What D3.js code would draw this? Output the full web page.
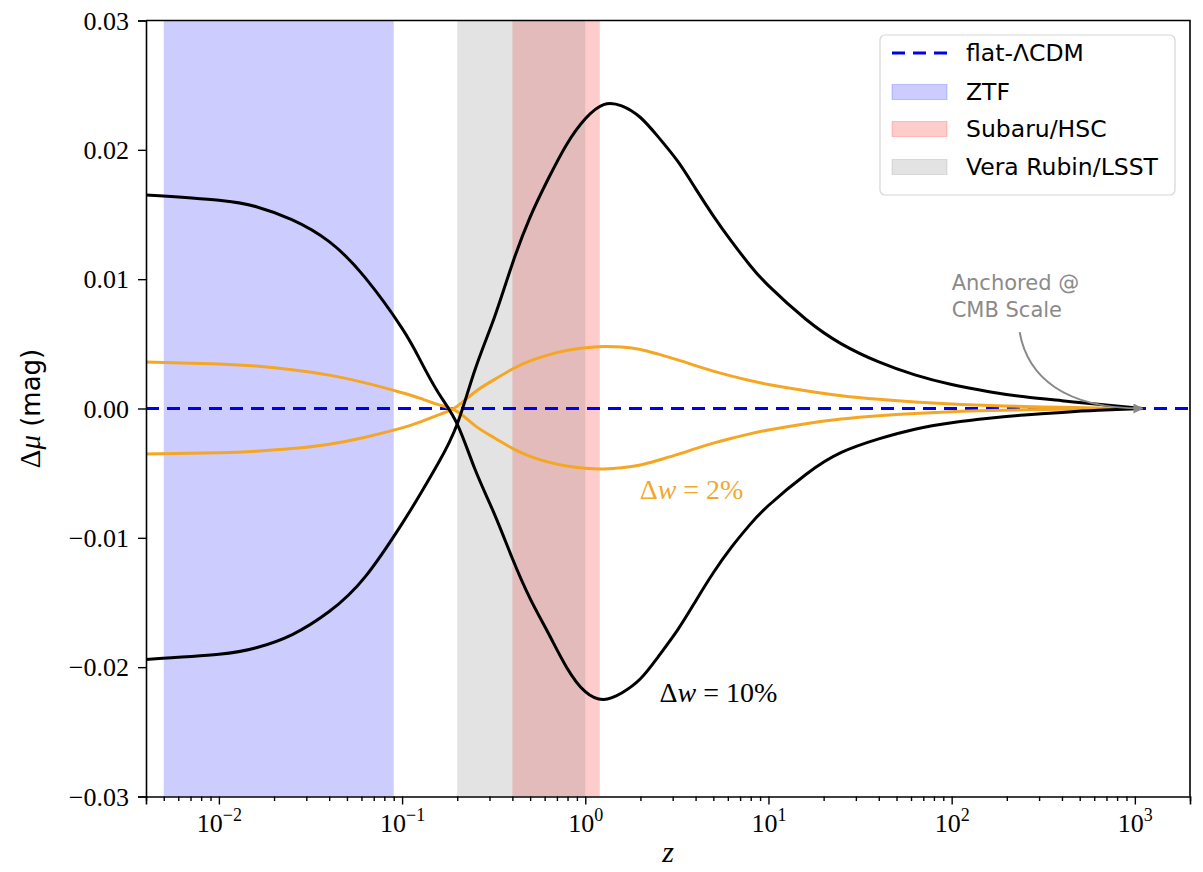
<!DOCTYPE html>
<html>
<head>
<meta charset="utf-8">
<script src="https://cdn.jsdelivr.net/npm/d3@7"></script>
<style>
  body { margin: 0; background: #fff; }
  .tick text { font-family: "Liberation Serif", serif; }
</style>
</head>
<body>
<svg id="chart" width="1203" height="872"></svg>
<script>
// redshift samples
const zGrid = [0.004, 0.01, 0.016, 0.025, 0.04, 0.063, 0.1, 0.126, 0.158, 0.2, 0.25, 0.32, 0.4, 0.5,
  0.63, 0.79, 1, 1.26, 1.58, 2, 2.5, 3.2, 4, 5, 6.3, 7.9, 10, 16, 25, 40, 63, 100, 160, 250, 400, 630, 1100];

// delta w = 10%, the two branches
const dw10Upper = [0.0165, 0.0161, 0.0156, 0.0146, 0.0129, 0.0101, 0.0062, 0.0037, 0.0012, -0.0012,
  -0.0047, -0.0082, -0.0116, -0.0147, -0.0174, -0.0200, -0.0219, -0.0225, -0.0220, -0.0209,
  -0.0192, -0.0171, -0.0149, -0.0127, -0.0107, -0.0090, -0.0075, -0.0051, -0.0034, -0.00235,
  -0.0016, -0.0011, -0.00075, -0.0005, -0.0003, -0.00014, 0];
const dw10Lower = [-0.0194, -0.0190, -0.0185, -0.0175, -0.0157, -0.0130, -0.0089, -0.0066, -0.0042, -0.0012,
  0.0030, 0.0071, 0.0112, 0.0148, 0.0178, 0.0204, 0.0224, 0.0235, 0.0234, 0.0225,
  0.0210, 0.0191, 0.0170, 0.0149, 0.0129, 0.0111, 0.0095, 0.0069, 0.0050, 0.0036,
  0.0026, 0.00185, 0.0013, 0.0009, 0.0006, 0.00032, 0];

// delta w = 2%
const dw2Upper = [0.0036, 0.00345, 0.00328, 0.0030, 0.00258, 0.00198, 0.00122, 0.00078, 0.0003, -0.00024,
  -0.00132, -0.00228, -0.00308, -0.0037, -0.00415, -0.00445, -0.00462, -0.00467, -0.00459, -0.00437,
  -0.0040, -0.00355, -0.0031, -0.00268, -0.0023, -0.00196, -0.00166, -0.00118, -0.00082, -0.00056,
  -0.00038, -0.00025, -0.00016, -0.0001, -0.00006, -0.00003, 0];
const dw2Lower = [-0.00352, -0.00342, -0.0033, -0.0031, -0.00276, -0.00222, -0.0015, -0.00104, -0.0005, 0.00018,
  0.00128, 0.00225, 0.00305, 0.00368, 0.00415, 0.00448, 0.00469, 0.00479, 0.00475, 0.00456,
  0.0042, 0.00376, 0.00331, 0.00289, 0.0025, 0.00216, 0.00186, 0.00137, 0.00099, 0.00071,
  0.0005, 0.00035, 0.00024, 0.00015, 0.00009, 0.00004, 0];

// survey redshift coverage
const surveyNames = ['ZTF', 'Subaru/HSC', 'Vera Rubin/LSST'];
const surveyRanges = [[0.005, 0.09], [0.4, 1.2], [0.2, 1.0]];
const surveyColors = ['blue', 'red', 'gray'];
const surveyAlpha = [0.2, 0.2, 0.22];

const yTicks = [-0.03, -0.02, -0.01, 0, 0.01, 0.02, 0.03];
const xMajor = [-2, -1, 0, 1, 2, 3];

const L = 146, R = 1190, T = 20.5, B = 796.5;
const svg = d3.select('#chart');

const x = d3.scaleLog().domain([0.004, 2000]).range([L, R]);
const y = d3.scaleLinear().domain([-0.03, 0.03]).range([B, T]);

svg.append('clipPath').attr('id', 'plot')
  .append('rect').attr('x', L).attr('y', T).attr('width', R - L).attr('height', B - T);

const plot = svg.append('g').attr('clip-path', 'url(#plot)');

// survey bands
plot.selectAll('.band')
  .data(surveyRanges)
  .enter().append('rect')
  .attr('class', 'band')
  .attr('x', d => x(d[0]))
  .attr('width', d => x(d[1]) - x(d[0]))
  .attr('y', T)
  .attr('height', B - T)
  .attr('fill', (d, i) => surveyColors[i])
  .attr('fill-opacity', (d, i) => surveyAlpha[i]);

// reference line
plot.append('line')
  .attr('x1', L).attr('x2', R)
  .attr('y1', y(0)).attr('y2', y(0))
  .attr('stroke', '#0000f0')
  .attr('stroke-width', 3)
  .attr('stroke-dasharray', '13,8');

const line = d3.line()
  .x(d => x(d[0]))
  .y(d => y(d[1]))
  .curve(d3.curveNatural);

const series = [
  { vals: dw2Upper, color: '#f5a623' },
  { vals: dw2Lower, color: '#f5a623' },
  { vals: dw10Upper, color: '#000' },
  { vals: dw10Lower, color: '#000' },
];
series.forEach(s => {
  plot.append('path')
    .datum(zGrid.map((z, i) => [z, s.vals[i]]))
    .attr('d', line)
    .attr('fill', 'none')
    .attr('stroke', s.color)
    .attr('stroke-width', 3);
});

// axes
const xAxis = svg.append('g').attr('transform', `translate(0,${B})`);
xAxis.call(d3.axisBottom(x).tickValues(xMajor.map(e => Math.pow(10, e))).tickSize(8).tickFormat(() => ''));
const minors = [];
for (let e = -3; e <= 3; e++) {
  for (let m = 2; m <= 9; m++) {
    const v = m * Math.pow(10, e);
    if (v >= 0.004 && v <= 2000) minors.push(v);
  }
}
const xMinor = svg.append('g').attr('transform', `translate(0,${B})`);
xMinor.call(d3.axisBottom(x).tickValues(minors).tickSize(4.5).tickFormat(() => ''));
xMinor.select('.domain').remove();

xAxis.selectAll('.tick').each(function(d) {
  const e = Math.round(Math.log10(d));
  const t = d3.select(this).append('text')
    .attr('fill', '#000')
    .attr('y', 35)
    .attr('text-anchor', 'middle')
    .attr('font-size', 26);
  t.append('tspan').text('10');
  t.append('tspan').attr('dy', -11).attr('font-size', 18)
    .text(e < 0 ? '\u2212' + Math.abs(e) : String(e));
});

const yAxis = svg.append('g').attr('transform', `translate(${L},0)`);
yAxis.call(d3.axisLeft(y).tickValues(yTicks).tickSize(8).tickPadding(9)
  .tickFormat(d => (d < 0 ? '\u2212' : '') + Math.abs(d).toFixed(2)));
yAxis.selectAll('.tick text').attr('font-size', 26).attr('dy', '0.33em');

svg.selectAll('.domain').attr('stroke-width', 1.6);
svg.selectAll('.tick line').attr('stroke-width', 1.4);

// top and right spines
svg.append('path')
  .attr('d', `M${L},${T}H${R}V${B}`)
  .attr('fill', 'none').attr('stroke', '#000').attr('stroke-width', 1.6);

// axis labels
svg.append('text')
  .attr('x', (L + R) / 2).attr('y', 862)
  .attr('text-anchor', 'middle')
  .attr('font-family', 'Liberation Serif, serif').attr('font-style', 'italic')
  .attr('font-size', 30).text('z');

const yl = svg.append('text')
  .attr('transform', `translate(40,${y(0)}) rotate(-90)`)
  .attr('text-anchor', 'middle')
  .attr('font-size', 29);
yl.append('tspan').attr('font-family', 'Liberation Serif, serif').text('\u0394');
yl.append('tspan').attr('font-family', 'Liberation Serif, serif').attr('font-style', 'italic').text('\u03bc');
yl.append('tspan').attr('font-family', 'DejaVu Sans, sans-serif').attr('font-size', 26).text(' (mag)');

// curve labels
function mathLabel(zv, yv, pct, color) {
  const t = svg.append('text')
    .attr('x', x(zv)).attr('y', y(yv))
    .attr('font-family', 'Liberation Serif, serif')
    .attr('font-size', 28).attr('fill', color)
    .attr('xml:space', 'preserve');
  t.append('tspan').text('\u0394');
  t.append('tspan').attr('font-style', 'italic').text('w');
  t.append('tspan').text(' = ' + pct + '%');
}
mathLabel(1.98, -0.0070, 2, '#f0a830');
mathLabel(2.54, -0.0227, 10, '#000');

// CMB anchor note
const note = svg.append('text')
  .attr('font-family', 'DejaVu Sans, sans-serif')
  .attr('font-size', 21).attr('fill', '#8a8a8a');
note.append('tspan').attr('x', x(100)).attr('y', y(0.0092)).text('Anchored @');
note.append('tspan').attr('x', x(100)).attr('y', y(0.0071)).text('CMB Scale');

svg.append('defs').append('marker')
  .attr('id', 'arrow').attr('viewBox', '0 0 10 10')
  .attr('refX', 9).attr('refY', 5)
  .attr('markerWidth', 5).attr('markerHeight', 5)
  .attr('orient', 'auto-start-reverse')
  .append('path').attr('d', 'M0,0L10,5L0,10z').attr('fill', '#888');

const ax0 = x(235), ay0 = y(0.0059), ax1 = x(1100), ay1 = y(0);
svg.append('path')
  .attr('d', `M${ax0},${ay0}C${ax0 + 8},${ay0 + 45} ${ax0 + 45},${ay1} ${ax1},${ay1}`)
  .attr('fill', 'none').attr('stroke', '#888').attr('stroke-width', 2)
  .attr('marker-end', 'url(#arrow)');

// legend
const lg = svg.append('g').attr('transform', 'translate(880,35)');
lg.append('rect')
  .attr('width', 295).attr('height', 160).attr('rx', 5)
  .attr('fill', '#fff').attr('fill-opacity', 0.8)
  .attr('stroke', '#d5d5d5').attr('stroke-width', 1.2);
const rowY = [18, 57, 94, 132];
lg.append('line')
  .attr('x1', 12).attr('x2', 67).attr('y1', rowY[0]).attr('y2', rowY[0])
  .attr('stroke', '#0000f0').attr('stroke-width', 3).attr('stroke-dasharray', '13,8');
lg.append('text').attr('x', 86).attr('y', rowY[0] + 8)
  .attr('font-family', 'DejaVu Sans, sans-serif').attr('font-size', 23.5)
  .text('flat-\u039bCDM');
surveyNames.forEach((name, i) => {
  lg.append('rect')
    .attr('x', 12).attr('y', rowY[i + 1] - 7.5).attr('width', 55).attr('height', 15)
    .attr('fill', surveyColors[i]).attr('fill-opacity', surveyAlpha[i])
    .attr('stroke', surveyColors[i]).attr('stroke-opacity', surveyAlpha[i]);
  lg.append('text').attr('x', 86).attr('y', rowY[i + 1] + 8)
    .attr('font-family', 'DejaVu Sans, sans-serif').attr('font-size', 23.5)
    .text(name);
});
</script>
</body>
</html>
